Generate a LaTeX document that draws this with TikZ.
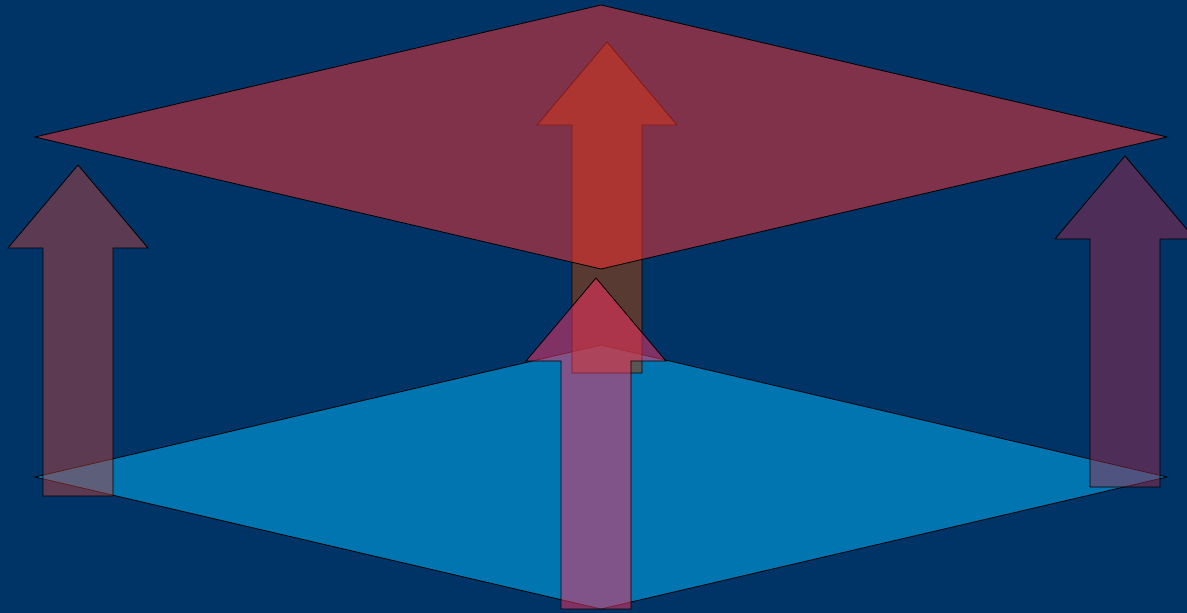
\documentclass[tikz,border=0pt]{standalone}
\definecolor{bgblue}{RGB}{0,51,102}
\definecolor{lowplane}{RGB}{0,117,176}
\definecolor{topplane}{RGB}{255,50,50}
\definecolor{leftarr}{RGB}{204,67,58}
\definecolor{rightarr}{RGB}{173,42,71}
\definecolor{toparr}{RGB}{160,64,12}
\definecolor{botarr}{RGB}{255,50,100}
\tikzset{
  outline/.style={draw=black, line width=0.8pt, line join=miter},
  arrowbody/.style={outline, fill=#1, fill opacity=0.45},
}
\newcommand\bigup[4]{% center x, tip y, bottom y, style
  \draw[#4] (#1,#2) -- ({#1+70},{#2+83}) -- ({#1+35},{#2+83}) -- ({#1+35},#3)
    -- ({#1-35},#3) -- ({#1-35},{#2+83}) -- ({#1-70},{#2+83}) -- cycle;}
\begin{document}
\begin{tikzpicture}[x=1pt,y=-1pt]
\fill[bgblue] (0,0) rectangle (1187,613);
\useasboundingbox (0,0) rectangle (1187,613);
% lower plane
\coordinate (lb-t) at (601,345);
\coordinate (lb-r) at (1167,477);
\coordinate (lb-b) at (601,609);
\coordinate (lb-l) at (35,477);
\draw[outline, fill=lowplane] (lb-t) -- (lb-r) -- (lb-b) -- (lb-l) -- cycle;
% side arrows
\bigup{78}{165}{496}{arrowbody=leftarr}
\bigup{1125}{156}{487}{arrowbody=rightarr}
% centre arrows
\bigup{607}{42}{373}{outline, fill=toparr, fill opacity=0.56}
\bigup{596}{278}{609}{outline, fill=botarr, fill opacity=0.5}
% upper plane
\coordinate (ub-t) at (601,5);
\coordinate (ub-r) at (1167,137);
\coordinate (ub-b) at (601,269);
\coordinate (ub-l) at (35,137);
\draw[outline, fill=topplane, fill opacity=0.5] (ub-t) -- (ub-r) -- (ub-b) -- (ub-l) -- cycle;
\end{tikzpicture}
\end{document}
